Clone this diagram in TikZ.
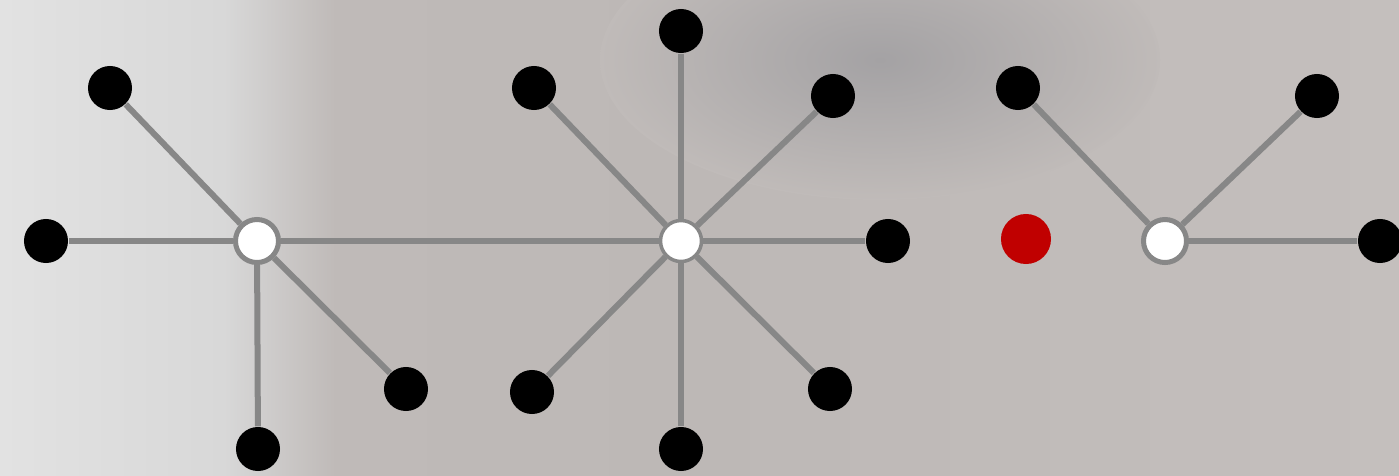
\documentclass[tikz,border=0pt]{standalone}
\usepackage{xcolor}
\usepackage{tikz}
\usetikzlibrary{positioning}
\definecolor{stonelight}{HTML}{E2E2E2}
\definecolor{stonepale}{HTML}{D8D8D8}
\definecolor{stonemid}{HTML}{BFBAB8}
\definecolor{stonewarm}{HTML}{BDB8B6}
\definecolor{stoneright}{HTML}{C4BFBD}
\definecolor{stonedark}{HTML}{A4A2A4}
\definecolor{linkgray}{HTML}{878787}
\definecolor{nodered}{HTML}{C00000}
\pgfdeclarehorizontalshading{stone}{100bp}{color(0bp)=(stonelight); color(25bp)=(stonelight); color(33bp)=(stonepale); color(37bp)=(stonemid); color(50bp)=(stonewarm); color(75bp)=(stoneright); color(100bp)=(stoneright)}
\tikzset{
  leaf/.style={circle,fill=black,minimum size=0.44cm,inner sep=0pt},
  hub/.style={circle,fill=white,draw=linkgray,line width=0.05cm,minimum size=0.43cm,inner sep=0pt},
  lonenode/.style={circle,fill=nodered,minimum size=0.5cm,inner sep=0pt},
  link/.style={linkgray,line width=0.06cm}
}
\begin{document}
\begin{tikzpicture}[x=0.01cm,y=-0.01cm]
  \useasboundingbox (0,0) rectangle (1399,475);
  \clip (0,0) rectangle (1399,475);
  % stone background
  \shade[shading=stone] (0,0) rectangle (1399,475);
  \shade[inner color=stonedark,outer color=stonewarm!60!stoneright] (880,60) ellipse (280 and 140);
  % left star
  \node[hub] (hubA) at (257,241) {};
  \node[leaf] (a1) at (110,88) {};
  \node[leaf] (a2) at (46,241) {};
  \node[leaf] (a3) at (406,389) {};
  \node[leaf] (a4) at (258,449) {};
  % middle star
  \node[hub,line width=0.035cm,minimum size=0.41cm] (hubB) at (681,241) {};
  \node[leaf] (b1) at (534,88) {};
  \node[leaf] (b2) at (681,31) {};
  \node[leaf] (b3) at (833,96) {};
  \node[leaf] (b4) at (888,241) {};
  \node[leaf] (b5) at (532,392) {};
  \node[leaf] (b6) at (681,449) {};
  \node[leaf] (b7) at (830,389) {};
  % right star
  \node[lonenode] (red) at (1026,239) {};
  \node[hub] (hubC) at (1165,241) {};
  \node[leaf] (c1) at (1018,88) {};
  \node[leaf] (c2) at (1317,96) {};
  \node[leaf] (c3) at (1380,241) {};
  \foreach \n in {a1,a2,a3,a4} \draw[link] (hubA) -- (\n);
  \draw[link] (hubA) -- (hubB);
  \foreach \n in {b1,b2,b3,b4,b5,b6,b7} \draw[link] (hubB) -- (\n);
  \foreach \n in {c1,c2,c3} \draw[link] (hubC) -- (\n);
\end{tikzpicture}
\end{document}
